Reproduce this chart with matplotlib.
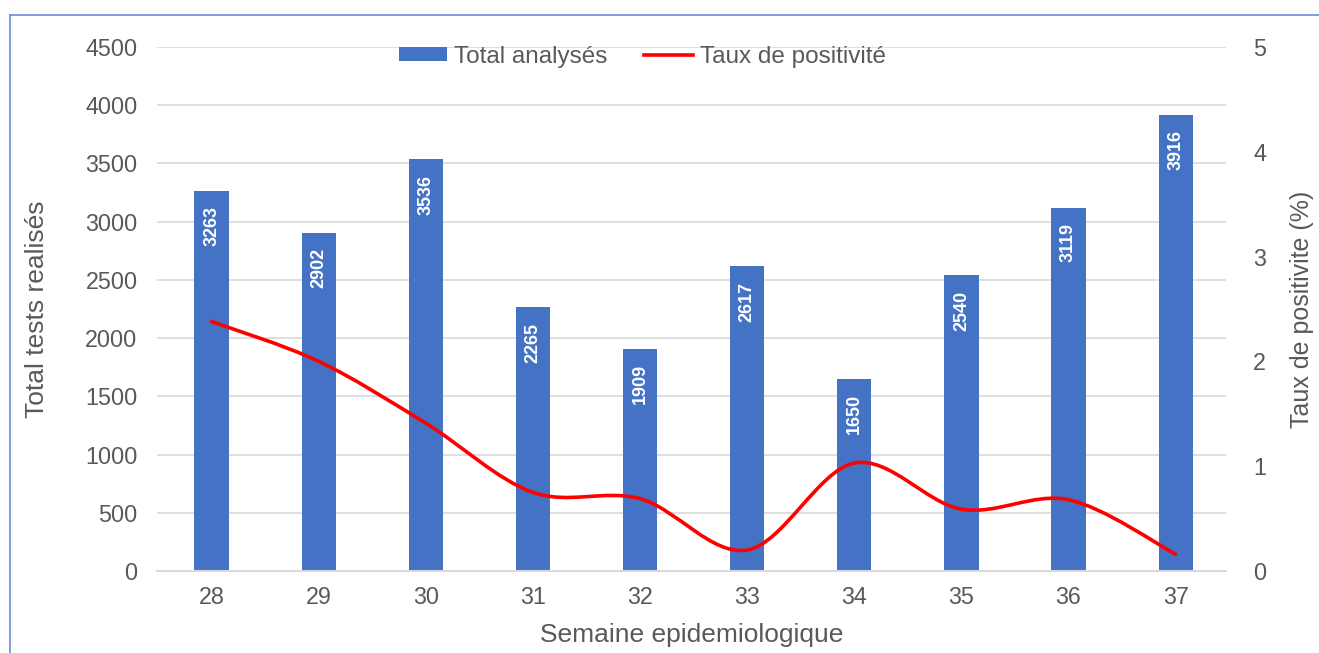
import numpy as np
import matplotlib
matplotlib.use("Agg")
import matplotlib.pyplot as plt
from matplotlib.path import Path
from matplotlib.patches import PathPatch

plt.rcParams['font.family'] = ['Liberation Sans', 'DejaVu Sans']

weeks = ['28', '29', '30', '31', '32', '33', '34', '35', '36', '37']
total_tests = [3263, 2902, 3536, 2265, 1909, 2617, 1650, 2540, 3119, 3916]
positivity = [2.38, 2.0, 1.41, 0.75, 0.69, 0.2, 1.03, 0.59, 0.68, 0.16]

left_ticks = list(range(0, 4501, 500))
right_ticks = [0, 1, 2, 3, 4, 5]

BAR = '#4472C4'
GRAY = '#595959'
GRID = '#D9D9D9'

fig = plt.figure(figsize=(13.19, 6.53), dpi=100)
ax = fig.add_axes([157/1319, 82/653, (1226-157)/1319, (571-47)/653])
ax2 = ax.twinx()

x = np.arange(len(weeks))
ax.bar(x, total_tests, width=0.32, color=BAR, zorder=2, label='Total analysés')
for xi, v in zip(x, total_tests):
    ax.annotate(str(v), (xi, v), xytext=(0, -11), textcoords='offset points',
                rotation=90, ha='center', va='top', color='white',
                fontsize=13, fontweight='bold', zorder=3)

ax.set_ylim(0, 4500)
ax.set_xlim(-0.51, 9.47)
ax.set_yticks(left_ticks)
ax.set_xticks(x)
ax.set_xticklabels(weeks)
ax.yaxis.grid(True, color=GRID, linewidth=1.2, zorder=0)
ax.set_axisbelow(True)
for s in ['top', 'left', 'right']:
    ax.spines[s].set_visible(False)
ax.spines['bottom'].set_color(GRID)
ax.spines['bottom'].set_linewidth(1.5)
ax.tick_params(axis='both', length=0, colors=GRAY, labelsize=16.8)
ax.tick_params(axis='y', pad=14)
ax.tick_params(axis='x', pad=11)
ax.set_ylabel('Total tests realisés', fontsize=19, color=GRAY, va='center')
ax.yaxis.set_label_coords((37-157)/1069, 0.5)
ax.set_xlabel('Semaine epidemiologique', fontsize=19, color=GRAY, va='center')
ax.xaxis.set_label_coords(0.5, (571-635)/524)

# smooth line (Excel-like Bezier through points)
px = list(x.astype(float))
py = list(positivity)
verts = [(px[0], py[0])]
codes = [Path.MOVETO]
n = len(px)
for i in range(n - 1):
    p0 = (px[max(i-1, 0)], py[max(i-1, 0)])
    p1 = (px[i], py[i])
    p2 = (px[i+1], py[i+1])
    p3 = (px[min(i+2, n-1)], py[min(i+2, n-1)])
    c1 = (p1[0] + (p2[0]-p0[0])/6, p1[1] + (p2[1]-p0[1])/6)
    c2 = (p2[0] - (p3[0]-p1[0])/6, p2[1] - (p3[1]-p1[1])/6)
    verts += [c1, c2, p2]
    codes += [Path.CURVE4]*3
ax2.add_patch(PathPatch(Path(verts, codes), facecolor='none', edgecolor='#FF0000',
                        linewidth=2.6, capstyle='round', zorder=4))
ax2.plot([], [], color='#FF0000', linewidth=2.6, label='Taux de positivité')
ax2.set_ylim(0, 5)
ax2.set_yticks(right_ticks)
for s in ['top', 'left', 'right', 'bottom']:
    ax2.spines[s].set_visible(False)
ax2.tick_params(axis='y', length=0, colors=GRAY, labelsize=16.8, pad=19.5)
ax2.set_ylabel('Taux de positivite (%)', fontsize=18, color=GRAY, va='center')
ax2.yaxis.set_label_coords((1302-157)/1069, 0.5)

h1, l1 = ax.get_legend_handles_labels()
h2, l2 = ax2.get_legend_handles_labels()
leg = ax2.legend(h1 + h2, l1 + l2, loc='center', bbox_to_anchor=(0.454, 0.981),
                 ncol=2, frameon=False, fontsize=17.5, handlelength=2.0,
                 handleheight=0.5, columnspacing=1.5, handletextpad=0.3,
                 borderpad=0.2)
for t in leg.get_texts():
    t.set_color(GRAY)

# outer frame (top and left edge)
fig.add_artist(plt.Line2D([9.5/1319, 1.0], [1-15/653, 1-15/653], color='#6A8ED6', linewidth=1.2))
fig.add_artist(plt.Line2D([9.5/1319, 9.5/1319], [0, 1-15/653], color='#6A8ED6', linewidth=1.2))

fig.savefig('out.png', dpi=100)
